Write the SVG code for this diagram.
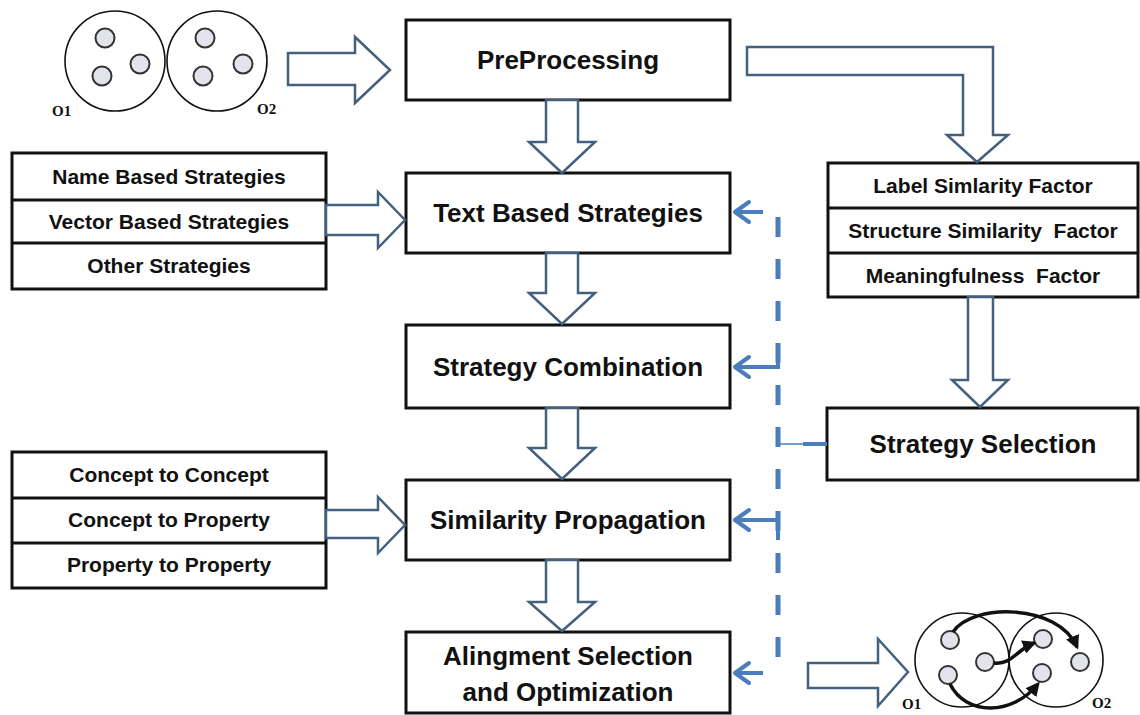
<svg xmlns="http://www.w3.org/2000/svg" width="1140" height="715" viewBox="0 0 1140 715">
  <style>
    .box { fill: #ffffff; stroke: #111111; stroke-width: 3; }
    .title { font-family: "Liberation Sans", Arial, sans-serif; font-weight: bold; font-size: 26px; fill: #111111; text-anchor: middle; }
    .item { font-family: "Liberation Sans", Arial, sans-serif; font-weight: bold; font-size: 21px; fill: #111111; text-anchor: middle; }
    .olabel { font-family: "Liberation Serif", "Times New Roman", serif; font-weight: bold; font-size: 15px; fill: #111111; }
    .hollow { fill: #ffffff; stroke: #44607f; stroke-width: 2.5; stroke-linejoin: miter; }
    .dash { fill: none; stroke: #4a7dbb; stroke-width: 5; stroke-dasharray: 20 22; }
    .feed { fill: none; stroke: #4a7dbb; stroke-width: 4; }
    .head { fill: none; stroke: #4a7dbb; stroke-width: 4; stroke-linecap: round; stroke-linejoin: round; }
    .onto { fill: none; stroke: #111111; stroke-width: 1.6; }
    .concept { fill: #e3e3ec; stroke: #333333; stroke-width: 2; }
    .map { fill: none; stroke: #111111; stroke-width: 3.5; }
  </style>
  <defs>
    <marker id="mapHead" viewBox="0 0 10 10" refX="8" refY="5" markerWidth="4" markerHeight="4" orient="auto">
      <path d="M0,0 L10,5 L0,10 Z" fill="#111111"/>
    </marker>
  </defs>

  <rect width="1140" height="715" fill="#ffffff"/>

  <!-- input ontologies O1 and O2 -->
  <g id="input-ontologies">
    <circle class="onto" cx="115" cy="61" r="50"/>
    <circle class="onto" cx="217" cy="61" r="50"/>
    <circle class="concept" cx="105" cy="38" r="9.5"/>
    <circle class="concept" cx="102" cy="76" r="9.5"/>
    <circle class="concept" cx="140" cy="64" r="9.5"/>
    <circle class="concept" cx="205" cy="38" r="9.5"/>
    <circle class="concept" cx="203" cy="76" r="9.5"/>
    <circle class="concept" cx="243" cy="64" r="9.5"/>
    <text class="olabel" x="52" y="116">O1</text>
    <text class="olabel" x="257" y="114">O2</text>
  </g>

  <!-- pipeline stages -->
  <g id="preprocessing">
    <rect class="box" x="406" y="20" width="324" height="80"/>
    <text class="title" x="568" y="69">PreProcessing</text>
  </g>
  <g id="text-based-strategies">
    <rect class="box" x="406" y="173" width="324" height="80"/>
    <text class="title" x="568" y="222">Text Based Strategies</text>
  </g>
  <g id="strategy-combination">
    <rect class="box" x="406" y="325" width="324" height="83"/>
    <text class="title" x="568" y="376">Strategy Combination</text>
  </g>
  <g id="similarity-propagation">
    <rect class="box" x="406" y="480" width="324" height="80"/>
    <text class="title" x="568" y="529">Similarity Propagation</text>
  </g>
  <g id="alignment-selection">
    <rect class="box" x="406" y="632" width="324" height="81"/>
    <text class="title" x="568" y="665">Alingment Selection</text>
    <text class="title" x="568" y="701">and Optimization</text>
  </g>

  <!-- text strategy list -->
  <g id="text-strategy-list">
    <rect class="box" x="12" y="153" width="314" height="136"/>
    <line x1="12" y1="200" x2="326" y2="200" stroke="#111111" stroke-width="3"/>
    <line x1="12" y1="243" x2="326" y2="243" stroke="#111111" stroke-width="3"/>
    <text class="item" x="169" y="184">Name Based Strategies</text>
    <text class="item" x="169" y="229">Vector Based Strategies</text>
    <text class="item" x="169" y="273">Other Strategies</text>
  </g>

  <!-- propagation list -->
  <g id="propagation-list">
    <rect class="box" x="12" y="452" width="314" height="136"/>
    <line x1="12" y1="498" x2="326" y2="498" stroke="#111111" stroke-width="3"/>
    <line x1="12" y1="543" x2="326" y2="543" stroke="#111111" stroke-width="3"/>
    <text class="item" x="169" y="482">Concept to Concept</text>
    <text class="item" x="169" y="527">Concept to Property</text>
    <text class="item" x="169" y="572">Property to Property</text>
  </g>

  <!-- factor table -->
  <g id="factors">
    <rect class="box" x="828" y="163" width="310" height="134"/>
    <line x1="828" y1="208" x2="1138" y2="208" stroke="#111111" stroke-width="3"/>
    <line x1="828" y1="253" x2="1138" y2="253" stroke="#111111" stroke-width="3"/>
    <text class="item" x="983" y="193">Label Simlarity Factor</text>
    <text class="item" x="983" y="238" xml:space="preserve">Structure Similarity  Factor</text>
    <text class="item" x="983" y="283" xml:space="preserve">Meaningfulness  Factor</text>
  </g>

  <g id="strategy-selection">
    <rect class="box" x="827" y="408" width="311" height="72"/>
    <text class="title" x="983" y="453">Strategy Selection</text>
  </g>

  <!-- output alignment between O1 and O2 -->
  <g id="output-alignment">
    <circle class="onto" cx="962" cy="660" r="47"/>
    <circle class="onto" cx="1056" cy="660" r="47"/>
    <circle class="concept" cx="950" cy="640" r="9"/>
    <circle class="concept" cx="948" cy="675" r="9"/>
    <circle class="concept" cx="985" cy="662" r="9"/>
    <circle class="concept" cx="1043" cy="639" r="9"/>
    <circle class="concept" cx="1042" cy="673" r="9"/>
    <circle class="concept" cx="1080" cy="662" r="9"/>
    <path class="map" d="M953,632 C972,603 1058,603 1077,647" marker-end="url(#mapHead)"/>
    <path class="map" d="M994,663 C1012,665 1016,650 1034,643" marker-end="url(#mapHead)"/>
    <path class="map" d="M950,684 C966,716 1012,716 1038,684" marker-end="url(#mapHead)"/>
    <text class="olabel" x="902" y="709">O1</text>
    <text class="olabel" x="1092" y="708">O2</text>
  </g>

  <!-- connectors -->
  <g id="connectors">
    <!-- block arrows -->
    <polygon class="hollow" points="288,53 355,53 355,37 390,70 355,103 355,85 288,85"/>
    <polygon class="hollow" points="546,100 578,100 578,142 595,142 562,173 529,142 546,142"/>
    <polygon class="hollow" points="546,253 578,253 578,293 595,293 562,324 529,293 546,293"/>
    <polygon class="hollow" points="546,408 578,408 578,448 595,448 562,479 529,448 546,448"/>
    <polygon class="hollow" points="546,560 578,560 578,602 595,602 562,631 529,602 546,602"/>
    <polygon class="hollow" points="747,47 993,47 993,135 1008,135 977,162 947,135 963,135 963,75 747,75"/>
    <polygon class="hollow" points="968,297 993,297 993,380 1008,380 980,407 952,380 968,380"/>
    <polygon class="hollow" points="326,205 378,205 378,192 405,220 378,248 378,235 326,235"/>
    <polygon class="hollow" points="326,510 378,510 378,497 405,525 378,553 378,538 326,538"/>
    <polygon class="hollow" points="808,663 878,663 878,639 908,672 878,706 878,688 808,688"/>

    <!-- strategy selection feedback -->
    <path class="dash" d="M778,217 V672"/>
    <line x1="779" y1="444" x2="803" y2="444" stroke="#4a7dbb" stroke-width="1.5"/>
    <line x1="803" y1="444" x2="827" y2="444" stroke="#4a7dbb" stroke-width="4"/>
    <line class="feed" x1="763" y1="212" x2="735" y2="212"/>
    <polyline class="head" points="749,202 735,212 749,222"/>
    <polyline class="feed" points="778,345 778,367 735,367"/>
    <polyline class="head" points="749,357 735,367 749,377"/>
    <polyline class="feed" points="778,540 778,520 735,520"/>
    <polyline class="head" points="749,510 735,520 749,530"/>
    <line class="feed" x1="763" y1="673" x2="735" y2="673"/>
    <polyline class="head" points="749,663 735,673 749,683"/>
  </g>
</svg>
